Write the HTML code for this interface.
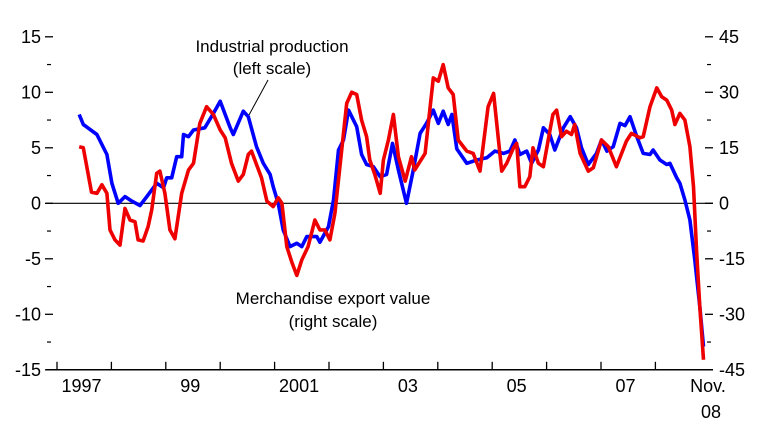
<!DOCTYPE html>
<html><head><meta charset="utf-8"><style>
html,body{margin:0;padding:0;background:#fff;}
svg{display:block;font-family:"Liberation Sans",Arial,sans-serif;}
</style></head><body>
<svg id="chart" width="774" height="446" viewBox="0 0 774 446">
<g id="axes"></g>
<g id="series"></g>
<g>
<text x="272" y="52" font-size="17" text-anchor="middle">Industrial production</text>
<text x="272" y="74" font-size="17" text-anchor="middle">(left scale)</text>
<line x1="268" y1="80" x2="249" y2="115" stroke="#000" stroke-width="1"/>
<text x="333" y="304" font-size="17" text-anchor="middle">Merchandise export value</text>
<text x="333" y="327" font-size="17" text-anchor="middle">(right scale)</text>
</g>
</svg>
<script>
const leftTicks=[15,10,5,0,-5,-10,-15];
const rightTicks=[45,30,15,0,-15,-30,-45];
const yearLabels=["1997","99","2001","03","05","07"];
const yearLabelYears=[1997,1999,2001,2003,2005,2007];
const ipMonths=[4.9,5.8,8.8,11,12.1,13.5,15,16.5,18.3,19.8,22,23.5,24.2,25.3,26.4,27.5,27.9,29,30.1,32.6,34.5,36,38.2,38.9,41.1,42.2,44,45.5,47,47.7,48.8,49.9,51.4,52.9,54,55.1,57.3,58,59.9,61,62.1,63.2,64.3,66.1,67.2,68.3,69.8,71.3,72.7,74,75.3,77.1,78.6,80.1,81.5,83,84.1,85.2,86.3,87.1,88.2,90.4,92.6,94.8,96.6,98.5,99.9,101,102.1,103.6,104.7,106.2,107.3,108.7,109.8,111.7,113.2,114.6,115.7,117.2,119,120.1,121.3,122.7,124.2,125.3,126.4,127.9,129.3,130.8,131.5,133,134.5,135.2,136.7,137.4,138.5,139.6,140.7,141.8,142.6];
const ipValues=[8.0,7.1,6.2,4.4,1.8,0,0.6,0.2,-0.2,0.6,1.8,1.4,2.3,2.3,4.2,4.2,6.2,6.0,6.6,6.8,8.1,9.2,6.8,6.2,8.3,7.8,5.1,3.6,2.6,1.5,0,-2.4,-3.9,-3.6,-3.9,-3.0,-3.0,-3.5,-2.1,0.3,4.8,5.7,8.4,6.9,4.4,3.5,3.3,2.4,2.6,5.4,3.0,0,3.0,6.3,7.2,8.4,7.2,8.3,7.1,8.0,4.9,3.6,3.9,4.1,4.7,4.5,4.7,5.7,4.4,4.7,3.6,4.8,6.8,6.2,4.8,6.8,7.8,6.8,5.0,3.5,4.5,5.7,4.7,5.1,7.2,7.0,7.8,6.0,4.5,4.4,4.8,3.9,3.5,3.6,2.3,1.8,0.3,-1.5,-5.1,-9.3,-12.9];
const exMonths=[4.9,5.8,7.6,8.8,9.9,11,11.7,12.8,13.9,15,16.1,17.2,17.9,19,20.1,20.9,22,22.7,23.8,24.9,26,27.5,29,30.1,31.5,33,34.5,36,37.1,38.5,40,41.1,42.2,42.9,44,45.1,46.3,47.7,48.8,49.6,50.7,51.8,52.9,54,55.4,56.9,58,59.1,60.2,61.3,62.4,63.9,65,66.1,67.2,68.3,69,70.1,71.3,72,73.1,74.2,75.3,76.8,78.2,78.9,81.2,83,84.1,85.2,86.3,87.4,88.5,90.4,91.8,93.3,95.1,96.3,98.1,99.2,100.7,101.4,102.1,103.2,104.3,105,106.2,107.3,108.7,109.4,110.2,111.3,112.4,113.5,114.2,115.4,117.2,118.3,120.1,121.6,123.4,125.6,126.7,128.6,129.3,130.8,132.3,133.4,134.5,135.6,136.3,137.4,138.5,139.6,140.4,141.1,141.8,142.6];
const exValues=[15.3,15,3,2.7,5,2.7,-7.2,-9.9,-11.3,-1.4,-4.5,-5,-9.9,-10.2,-6.3,-1.8,8.1,8.7,2.7,-7.2,-9.6,2.7,9,10.8,21.6,26.1,24,19.8,17.7,10.8,6,7.8,13.2,14.1,10.5,6.9,0.6,-0.9,1.5,0,-11.7,-15.9,-19.5,-15.3,-11.7,-4.5,-7.2,-7.2,-9.9,-2.7,9.9,27,30,29.4,22.5,18,11.7,7.8,2.7,11.7,17.1,24,12.6,6,12.6,9,13.5,33.9,33,37.5,31.2,29.4,17.1,14.1,13.5,8.7,26.1,29.7,8.7,10.8,15,16.2,4.5,4.5,7.2,15,10.8,9.9,19.5,24,25.2,18,19.5,18.6,21.3,13.5,8.7,9.6,17.1,15.3,9.9,16.8,18.9,17.7,18,26.1,31.2,28.8,27.9,25.2,21.3,24.3,22.5,15.3,4.5,-13.5,-27.9,-42.3];

const X0=57, PX_PER_YEAR=54.4, Y0=203.3, PX_PER_UNIT=11.1;
const ns="http://www.w3.org/2000/svg";
function xMonth(m){return X0+m/12*PX_PER_YEAR;}
function xYear(y){return X0+(y-1997)*PX_PER_YEAR;}
function yLeft(v){return Y0-v*PX_PER_UNIT;}
function yRight(v){return Y0-v/3*PX_PER_UNIT;}
function mk(tag,attrs,parent){const e=document.createElementNS(ns,tag);for(const k in attrs)e.setAttribute(k,attrs[k]);parent.appendChild(e);return e;}
const axes=document.getElementById('axes');
const series=document.getElementById('series');

leftTicks.forEach((t,i)=>{
  const y=yLeft(t);
  const tk=mk('line',{x1:45,x2:53,y1:y,y2:y,stroke:'#000','stroke-width':1.3},axes);
  
  
  const lb=mk('text',{x:41,y:y+6,'font-size':18,'text-anchor':'end'},axes);
  lb.textContent=String(t);
  
  
  if(i<leftTicks.length-1){
    const ym=yLeft(t-2.5);
    const mt=mk('line',{x1:47,x2:51,y1:ym,y2:ym,stroke:'#000','stroke-width':1.2},axes);
    
    
  }
});
rightTicks.forEach((t,i)=>{
  const y=yRight(t);
  const tk=mk('line',{x1:705,x2:713,y1:y,y2:y,stroke:'#000','stroke-width':1.3},axes);
  
  
  const lb=mk('text',{x:719,y:y+6,'font-size':18,'text-anchor':'start'},axes);
  lb.textContent=String(t);
  
  
  if(i<rightTicks.length-1){
    const ym=yRight(t-7.5);
    const mt=mk('line',{x1:707,x2:711,y1:ym,y2:ym,stroke:'#000','stroke-width':1.2},axes);
    
    
  }
});
const zl=mk('line',{x1:46,x2:713,y1:yLeft(0),y2:yLeft(0),stroke:'#000','stroke-width':1.2},axes);


const xa=mk('line',{x1:46,x2:713,y1:yLeft(-15),y2:yLeft(-15),stroke:'#000','stroke-width':1.5},axes);


for(let yr=1997;yr<=2008;yr++){
  const x=xYear(yr);
  const t=mk('line',{x1:x,x2:x,y1:yLeft(-15)-8,y2:yLeft(-15),stroke:'#000','stroke-width':1.3},axes);
  
  
}
yearLabels.forEach((s,i)=>{
  const lb=mk('text',{x:xYear(yearLabelYears[i]+0.45),y:392,'font-size':18,'text-anchor':'middle'},axes);
  lb.textContent=s;
  
  
});
const nv=mk('text',{x:708,y:392,'font-size':18,'text-anchor':'middle'},axes);
nv.textContent='Nov.';


const n8=mk('text',{x:711,y:418,'font-size':18,'text-anchor':'middle'},axes);
n8.textContent='08';



const ipPts=ipMonths.map((m,i)=>xMonth(m).toFixed(1)+','+yLeft(ipValues[i]).toFixed(1)).join(' ');
const ip=mk('polyline',{points:ipPts,fill:'none',stroke:'#0000ff','stroke-width':3.6,'stroke-linejoin':'round'},series);


const exPts=exMonths.map((m,i)=>xMonth(m).toFixed(1)+','+yRight(exValues[i]).toFixed(1)).join(' ');
const ex=mk('polyline',{points:exPts,fill:'none',stroke:'#ee0000','stroke-width':3.6,'stroke-linejoin':'round'},series);


</script>
</body></html>
